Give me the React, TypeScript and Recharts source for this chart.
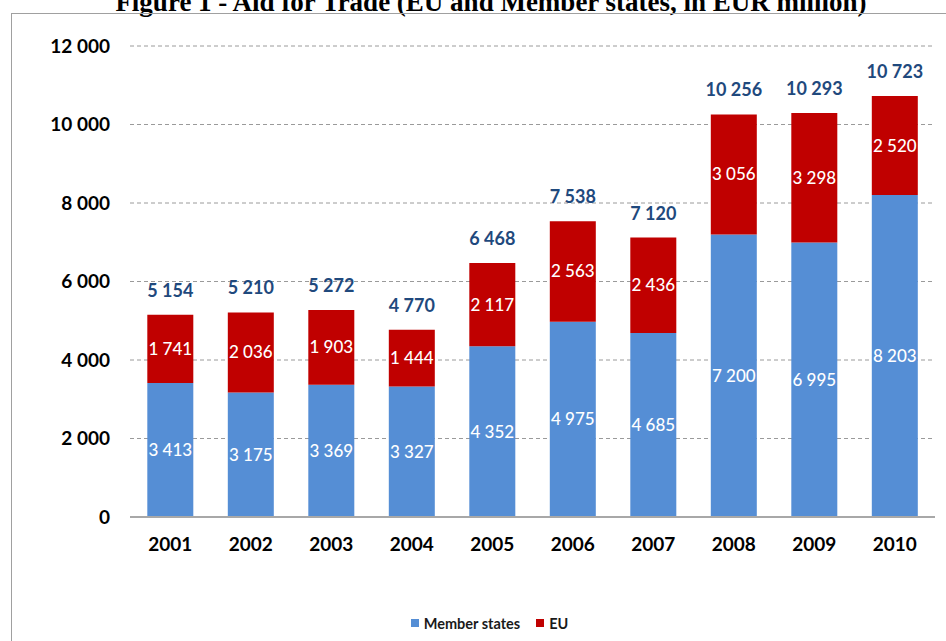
import React from 'react';
import { BarChart, Bar, XAxis, YAxis, CartesianGrid, Legend, LabelList } from 'recharts';

const years = ['2001', '2002', '2003', '2004', '2005', '2006', '2007', '2008', '2009', '2010'];
const memberStates = [3413, 3175, 3369, 3327, 4352, 4975, 4685, 7200, 6995, 8203];
const eu = [1741, 2036, 1903, 1444, 2117, 2563, 2436, 3056, 3298, 2520];
const totals = [5154, 5210, 5272, 4770, 6468, 7538, 7120, 10256, 10293, 10723];
const yTicks = [0, 2000, 4000, 6000, 8000, 10000, 12000];
const legendOrder = ['Member states', 'EU'];

const data = years.map((year, i) => ({
  year,
  ms: memberStates[i],
  eu: eu[i],
  total: totals[i],
}));

const FONT = 'Lato, "Open Sans", sans-serif';

// thousands with a space, e.g. 10 256 (no-break space so labels don't wrap)
const fmt = (v: number | string) => String(v).replace(/\B(?=(\d{3})+(?!\d))/g, '\u00A0');

const LegendContent = (props: any) => {
  const items = [...(props.payload || [])].sort(
    (a: any, b: any) => legendOrder.indexOf(a.value) - legendOrder.indexOf(b.value)
  );
  return (
    <div
      style={{
        height: 30,
        display: 'flex',
        alignItems: 'center',
        justifyContent: 'center',
        paddingLeft: 44,
        paddingTop: 4,
        boxSizing: 'border-box',
        fontFamily: FONT,
        fontSize: 14.5,
        fontWeight: 700,
        color: '#1a1a1a',
      }}
    >
      {items.map((item: any, i: number) => (
        <div key={i} style={{ display: 'flex', alignItems: 'center', marginLeft: i ? 16 : 0 }}>
          <span style={{ width: 8, height: 8, background: item.color, marginRight: 5, display: 'inline-block' }} />
          <span>{item.value}</span>
        </div>
      ))}
    </div>
  );
};

const App: React.FC = () => {
  return (
    <div style={{ position: 'absolute', left: 0, top: 0, width: 946, height: 641, background: '#fff', overflow: 'hidden' }}>
      {/* title, cut off by the top edge like in the source */}
      <div
        style={{
          position: 'absolute',
          top: -11,
          left: 0,
          width: 982,
          textAlign: 'center',
          fontFamily: '"Liberation Serif", "Times New Roman", serif',
          fontWeight: 700,
          fontSize: 27,
          lineHeight: 1,
          whiteSpace: 'nowrap',
          color: '#000',
        }}
      >
        Figure 1 - Aid for Trade (EU and Member states, in EUR million)
      </div>

      {/* frame */}
      <div
        style={{
          position: 'absolute',
          left: 11,
          top: 13,
          width: 960,
          height: 700,
          borderLeft: '1.5px solid #a0a0a0',
          borderTop: '1.5px solid #a0a0a0',
        }}
      />

      <div style={{ position: 'absolute', left: 0, top: 0 }}>
        <BarChart
          width={946}
          height={641}
          data={data}
          margin={{ top: 46, right: 11, left: 0, bottom: 5 }}
          barCategoryGap="21.5%"
        >
          <CartesianGrid vertical={false} stroke="#9a9a9a" strokeDasharray="4 3" />
          <XAxis
            dataKey="year"
            height={89}
            tickLine={false}
            tickSize={0}
            tickMargin={21}
            axisLine={{ stroke: '#a8a8a8', strokeWidth: 2 }}
            tick={{ fill: '#000', fontFamily: FONT, fontWeight: 700, fontSize: 19 }}
          />
          <YAxis
            width={130}
            domain={[0, 12000]}
            ticks={yTicks}
            tickFormatter={fmt}
            axisLine={false}
            tickLine={false}
            tickSize={0}
            tickMargin={20}
            tick={{ fill: '#000', fontFamily: FONT, fontWeight: 700, fontSize: 19 }}
          />
          <Legend verticalAlign="bottom" content={<LegendContent />} />
          <Bar dataKey="ms" name="Member states" stackId="a" fill="#558ED5" isAnimationActive={false}>
            <LabelList
              dataKey="ms"
              position="center"
              formatter={fmt}
              style={{ fill: '#fff', fontFamily: FONT, fontWeight: 500, fontSize: 17 }}
            />
          </Bar>
          <Bar dataKey="eu" name="EU" stackId="a" fill="#C00000" isAnimationActive={false}>
            <LabelList
              dataKey="eu"
              position="center"
              formatter={fmt}
              style={{ fill: '#fff', fontFamily: FONT, fontWeight: 500, fontSize: 17 }}
            />
            <LabelList
              dataKey="total"
              position="top"
              offset={18}
              formatter={fmt}
              style={{ fill: '#1F497D', fontFamily: FONT, fontWeight: 700, fontSize: 18 }}
            />
          </Bar>
        </BarChart>
      </div>
    </div>
  );
};

export default App;
